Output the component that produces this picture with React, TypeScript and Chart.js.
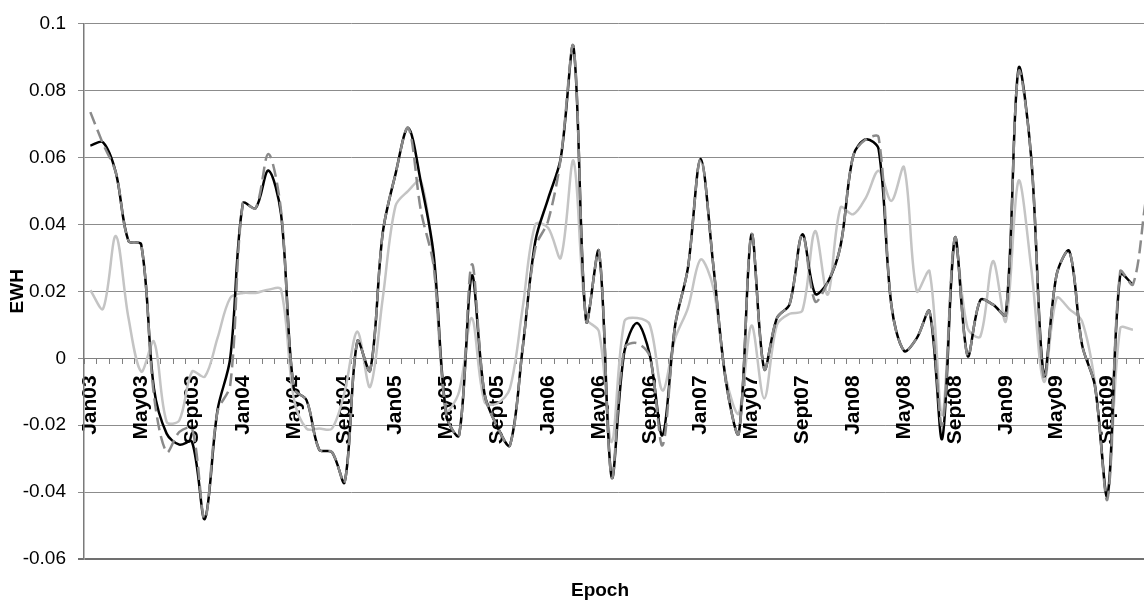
import React, { useEffect, useRef } from 'react';
import { Chart, registerables } from 'chart.js';

Chart.register(...registerables);

const years = ['03', '04', '05', '06', '07', '08', '09'];
const months = ['Jan', 'Feb', 'Mar', 'Apr', 'May', 'Jun', 'Jul', 'Aug', 'Sept', 'Oct', 'Nov', 'Dec'];
const categories = years.flatMap((y) => months.map((m) => m + y));
const labelEvery = 4;

// black solid line
const seriesBlack = [
  0.0635, 0.0645, 0.0555, 0.035, 0.034, -0.009, -0.0225, -0.0258, -0.025, -0.048, -0.0155, 0.0,
  0.0463, 0.0448, 0.0561, 0.043, -0.009, -0.0125, -0.0273, -0.028, -0.037, 0.0051, -0.0037, 0.0375,
  0.055, 0.0688, 0.0525, 0.031, -0.017, -0.023, 0.0247, -0.0106, -0.0204, -0.026, 0.003, 0.035,
  0.0476, 0.0598, 0.093, 0.011, 0.032, -0.0355, 0.002, 0.0105, 0.001, -0.023, 0.01, 0.027,
  0.0595, 0.0276, -0.0072, -0.0224, 0.037, -0.0032, 0.012, 0.0162, 0.037, 0.0193, 0.0227, 0.0335,
  0.0605, 0.0654, 0.0624, 0.0159, 0.0022, 0.006, 0.014, -0.024, 0.036, 0.0007, 0.0174, 0.016,
  0.013, 0.0865, 0.06, -0.005, 0.025, 0.032, 0.004, -0.008, -0.041, 0.025, 0.022, null,
];

// dark grey dashed line
const seriesDashed = [
  0.0735, 0.064, 0.0555, 0.035, 0.034, -0.011, -0.028, -0.022, -0.021, -0.048, -0.016, -0.008,
  0.0463, 0.0448, 0.061, 0.044, -0.009, -0.0125, -0.0273, -0.028, -0.037, 0.0051, -0.0037, 0.0375,
  0.055, 0.0688, 0.044, 0.0275, -0.017, -0.023, 0.028, -0.0106, -0.0204, -0.026, 0.003, 0.033,
  0.041, 0.0598, 0.093, 0.011, 0.032, -0.0355, 0.003, 0.0045, 0.0005, -0.026, 0.01, 0.027,
  0.0595, 0.0276, -0.0072, -0.0224, 0.037, -0.0032, 0.012, 0.0162, 0.037, 0.017, 0.0227, 0.0335,
  0.0605, 0.0654, 0.066, 0.0159, 0.0022, 0.006, 0.014, -0.02, 0.036, 0.0007, 0.0174, 0.016,
  0.013, 0.0855, 0.06, -0.006, 0.025, 0.032, 0.004, -0.008, -0.042, 0.026, 0.022, 0.047,
];

// light grey solid line
const seriesLight = [
  0.0203, 0.0148, 0.0365, 0.012, -0.004, 0.005, -0.019, -0.0185, -0.004, -0.0055, 0.006, 0.018,
  0.0195, 0.0195, 0.0205, 0.0205, -0.012, -0.021, -0.021, -0.021, -0.01, 0.008, -0.0086, 0.018,
  0.0455, 0.05, 0.053, 0.028, -0.0155, -0.01, 0.012, -0.013, -0.0135, -0.009, 0.015, 0.04,
  0.039, 0.03, 0.059, 0.012, 0.008, -0.025, 0.011, 0.012, 0.01, -0.0096, 0.006, 0.015,
  0.0295, 0.021, -0.006, -0.0165, 0.0098, -0.012, 0.01, 0.0133, 0.0142, 0.038, 0.019, 0.045,
  0.043, 0.048, 0.056, 0.047, 0.057, 0.02, 0.026, -0.017, 0.034, 0.009, 0.0065, 0.029,
  0.011, 0.053, 0.027, -0.007, 0.018, 0.0147, 0.011, -0.007, -0.041, 0.009, 0.0085, null,
];

const yMin = -0.06;
const yMax = 0.1;
const yStep = 0.02;

const FONT = '"Liberation Sans", Arial, sans-serif';

export default function App() {
  const canvasRef = useRef<HTMLCanvasElement | null>(null);

  useEffect(() => {
    const canvas = canvasRef.current;
    if (!canvas) return;
    const chart = new Chart(canvas, {
      type: 'line',
      data: {
        labels: categories,
        datasets: [
          {
            label: 'dashed',
            data: seriesDashed,
            borderColor: '#8a8a8a',
            borderWidth: 2.5,
            borderDash: [13, 6],
            pointRadius: 0,
            tension: 0.33,
            fill: false,
          },
          {
            label: 'black',
            data: seriesBlack,
            borderColor: '#000000',
            borderWidth: 2.5,
            pointRadius: 0,
            tension: 0.33,
            fill: false,
          },
          {
            label: 'light',
            data: seriesLight,
            borderColor: '#c4c4c4',
            borderWidth: 2.5,
            pointRadius: 0,
            tension: 0.33,
            fill: false,
          },
        ],
      },
      options: {
        animation: false,
        responsive: false,
        events: [],
        font: { family: FONT },
        layout: { padding: { left: 0, right: 0, top: 13, bottom: 10 } },
        plugins: {
          legend: { display: false },
          tooltip: { enabled: false },
          title: {
            display: true,
            text: 'Epoch',
            position: 'bottom',
            color: '#000',
            font: { family: FONT, size: 19, weight: 'bold' },
            padding: { top: 20, bottom: 0 },
          },
        },
        scales: {
          x: {
            type: 'category',
            position: { y: 0 },
            offset: true,
            grid: {
              display: true,
              drawOnChartArea: false,
              drawTicks: true,
              tickLength: 5,
              offset: true,
              color: '#808080',
              lineWidth: 1,
            },
            border: { display: true, color: '#808080', width: 1 },
            ticks: {
              autoSkip: false,
              minRotation: 90,
              maxRotation: 90,
              padding: 12,
              color: '#000',
              font: { family: FONT, size: 21, weight: 'bold' },
              callback: (_v: any, i: number) => (i % labelEvery === 0 ? categories[i] : ''),
            },
          },
          y: {
            type: 'linear',
            position: 'left',
            min: yMin,
            max: yMax,
            ticks: {
              stepSize: yStep,
              padding: 12,
              color: '#000',
              font: { family: FONT, size: 19 },
              callback: (v: any) => String(Number(Number(v).toFixed(2))),
            },
            grid: {
              drawTicks: true,
              tickLength: 6,
              color: (c: any) => (c.tick && Math.abs(c.tick.value - yMin) < 1e-9 ? '#707070' : '#8c8c8c'),
              lineWidth: (c: any) => (c.tick && Math.abs(c.tick.value - yMin) < 1e-9 ? 2 : 1),
            },
            border: { display: true, color: '#7a7a7a', width: 1.5 },
            title: {
              display: true,
              text: 'EWH',
              color: '#000',
              font: { family: FONT, size: 19, weight: 'bold' },
              padding: { top: 6, bottom: 0 },
            },
            afterFit: (s: any) => {
              s.width = 84;
            },
          },
          // empty right-hand box: the plot continues past the picture's right edge
          yRight: {
            type: 'linear',
            position: 'right',
            display: true,
            grid: { display: false, drawOnChartArea: false },
            ticks: { display: false },
            border: { display: false },
            afterFit: (s: any) => {
              s.width = 48;
            },
          },
        },
      },
    } as any);
    return () => chart.destroy();
  }, []);

  return (
    <div
      style={{
        position: 'fixed',
        left: 0,
        top: 0,
        width: 1144,
        height: 612,
        overflow: 'hidden',
        background: '#fff',
      }}
    >
      <canvas ref={canvasRef} width={1200} height={612} style={{ display: 'block' }} />
    </div>
  );
}
